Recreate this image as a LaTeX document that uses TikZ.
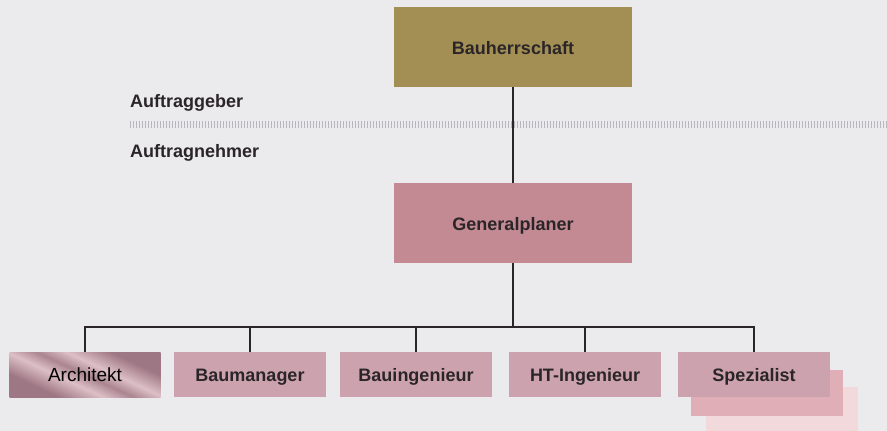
\documentclass[tikz,border=0pt]{standalone}
\usepackage{fontspec}
\setmainfont{Liberation Sans}
\usetikzlibrary{positioning}
\definecolor{bg}{HTML}{EBEAED}
\definecolor{gold}{HTML}{A38F54}
\definecolor{gplan}{HTML}{C38A93}
\definecolor{sub}{HTML}{CCA2AE}
\definecolor{stackA}{HTML}{E0AEB6}
\definecolor{stackB}{HTML}{F2D9DB}
\definecolor{ink}{HTML}{2A2528}
\definecolor{tick}{HTML}{B8B8BC}
\definecolor{archD}{HTML}{9E7784}
\definecolor{archL}{HTML}{DDBFC6}
\pgfdeclarehorizontalshading{archshade}{100bp}{
  color(0bp)=(archD); color(30bp)=(archD); color(42bp)=(archL); color(50bp)=(archD!80!archL);
  color(58bp)=(archL); color(70bp)=(archD); color(100bp)=(archD)}
\tikzset{
  top/.style={minimum width=238pt,minimum height=80pt,inner sep=0pt,text height=15pt,text depth=0pt,text=ink,font=\fontsize{18}{21}\selectfont\bfseries},
  subbox/.style={fill=sub,minimum width=152pt,minimum height=45pt,inner sep=0pt,text height=14.5pt,text depth=0pt,text=ink,font=\fontsize{18}{21}\selectfont\bfseries},
  conn/.style={draw=ink,line width=2pt},
  side/.style={anchor=base west,text=ink,font=\fontsize{18}{21}\selectfont\bfseries,inner sep=0pt}
}
\begin{document}
\begin{tikzpicture}[x=1pt,y=-1pt]
\fill[bg] (0,0) rectangle (887,431);
\useasboundingbox (0,0) rectangle (887,431);
% dotted separator
\draw[tick,line width=7pt,dash pattern=on 1pt off 2pt] (130,124.5) -- (887,124.5);
\node[side] (ag) at (130,107) {Auftraggeber};
\node[side] (an) at (130,157) {Auftragnehmer};
% stacked boxes behind Spezialist
\fill[stackB] (706,387) rectangle (858,440);
\fill[stackA] (691,370) rectangle (843,415.5);
% main boxes
\node[top,fill=gold] (bau) at (513,47) {Bauherrschaft};
\node[top,fill=gplan] (gen) at (513,223) {Generalplaner};
\node[subbox,fill=none,shading=archshade,shading angle=65,font=\fontsize{19}{21}\selectfont,text=black,minimum width=151pt] (arch) at (85,374.5) {Architekt};
\node[subbox] (bm) at (250,374.5) {Baumanager};
\node[subbox] (bi) at (416,374.5) {Bauingenieur};
\node[subbox] (ht) at (585,374.5) {HT-Ingenieur};
\node[subbox] (sp) at (754,374.5) {Spezialist};
\coordinate (bus) at (513,326.5);
% connectors
\draw[conn] (bau.south) -- (gen.north);
\draw[conn] (gen.south) -- (bus);
\draw[conn] (arch.north) |- (bus);
\draw[conn] (sp.north) |- (bus);
\draw[conn] (bm.north) -- (bm.north |- bus);
\draw[conn] (bi.north) -- (bi.north |- bus);
\draw[conn] (ht.north) -- (ht.north |- bus);
\end{tikzpicture}
\end{document}
